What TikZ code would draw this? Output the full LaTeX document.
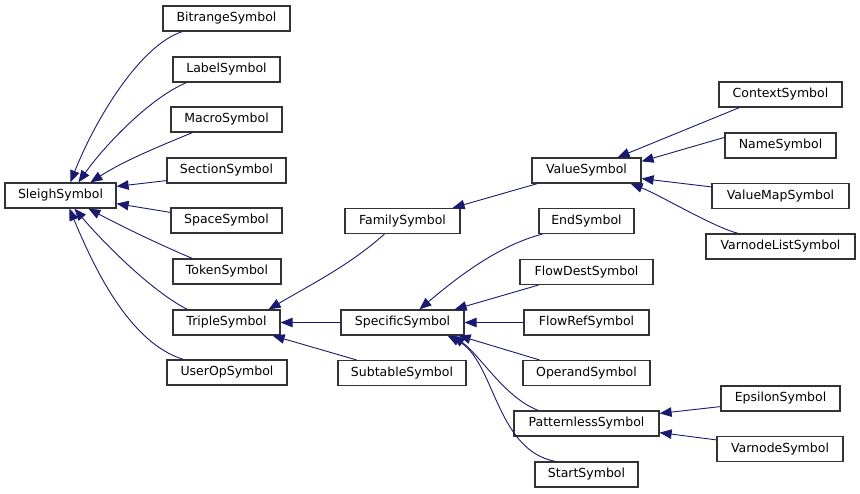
\documentclass[tikz,border=0pt]{standalone}
\usepackage{fontspec}
\setmainfont{DejaVu Sans}
\usetikzlibrary{arrows.meta,calc}
\definecolor{edgeblue}{HTML}{191970}
\begin{document}
\begin{tikzpicture}[x=1pt,y=-1pt,
  box/.style={draw=black!80, line width=1.2pt, minimum height=25pt, inner sep=0pt, fill=white,
    font=\fontsize{12.5}{14}\selectfont},
  edge/.style={draw=edgeblue, line width=0.9pt, -{Triangle[length=12pt,width=9.5pt]}}]
\useasboundingbox (0,0) rectangle (860,493);
% nodes
\node[box, minimum width=111pt] (sleigh) at (60.5,195.5) {SleighSymbol};
\node[box, minimum width=127pt] (bit) at (226.5,18.5) {BitrangeSymbol};
\node[box, minimum width=107pt] (label) at (226.5,69.5) {LabelSymbol};
\node[box, minimum width=111pt] (macro) at (226.5,119.5) {MacroSymbol};
\node[box, minimum width=119pt] (section) at (226.5,170.5) {SectionSymbol};
\node[box, minimum width=111pt] (space) at (226.5,220.5) {SpaceSymbol};
\node[box, minimum width=108pt] (token) at (227,271.5) {TokenSymbol};
\node[box, minimum width=107pt] (triple) at (226.5,322.5) {TripleSymbol};
\node[box, minimum width=120pt] (userop) at (227,372.5) {UserOpSymbol};
\node[box, minimum width=115pt] (family) at (402.5,221) {FamilySymbol};
\node[box, minimum width=123pt] (specific) at (402.5,322.5) {SpecificSymbol};
\node[box, minimum width=128pt] (subtable) at (402,373) {SubtableSymbol};
\node[box, minimum width=109pt] (value) at (586.5,170.5) {ValueSymbol};
\node[box, minimum width=95pt] (end) at (586.5,221) {EndSymbol};
\node[box, minimum width=133pt] (flowdest) at (586.5,272) {FlowDestSymbol};
\node[box, minimum width=125pt] (flowref) at (586.5,322.5) {FlowRefSymbol};
\node[box, minimum width=127pt] (operand) at (586.5,373) {OperandSymbol};
\node[box, minimum width=145pt] (patternless) at (586.5,423.5) {PatternlessSymbol};
\node[box, minimum width=103pt] (start) at (586.5,474.5) {StartSymbol};
\node[box, minimum width=123pt] (context) at (780.5,94.5) {ContextSymbol};
\node[box, minimum width=111pt] (name) at (780.5,145.5) {NameSymbol};
\node[box, minimum width=137pt] (valuemap) at (780.5,196) {ValueMapSymbol};
\node[box, minimum width=149pt] (varnodelist) at (780.5,246.5) {VarnodeListSymbol};
\node[box, minimum width=119pt] (epsilon) at (780.5,398.5) {EpsilonSymbol};
\node[box, minimum width=126pt] (varnode) at (780,449) {VarnodeSymbol};
% edges to SleighSymbol
\draw[edge] ([xshift=20pt]bit.south west) .. controls (140,45) and (95,120) .. ([xshift=66pt]sleigh.north west);
\draw[edge] ([xshift=14pt]label.south west) .. controls (150,98) and (105,145) .. ([xshift=74pt]sleigh.north west);
\draw[edge] ([xshift=22pt]macro.south west) .. controls (165,144) and (125,160) .. ([xshift=86pt]sleigh.north west);
\draw[edge] ([yshift=3pt]section.south west) -- ([yshift=-4pt]sleigh.north east);
\draw[edge] ([yshift=-5pt]space.north west) -- ([yshift=5pt]sleigh.south east);
\draw[edge] ([xshift=20pt]token.north west) .. controls (165,247) and (125,228) .. ([xshift=84pt]sleigh.south west);
\draw[edge] ([xshift=15pt]triple.north west) .. controls (155,293) and (110,250) .. ([xshift=70pt]sleigh.south west);
\draw[edge] ([xshift=17pt]userop.north west) .. controls (130,343) and (95,270) .. ([xshift=65pt]sleigh.south west);
% edges to TripleSymbol
\draw[edge] ([xshift=40pt]family.south west) .. controls (350,265) and (310,285) .. ([xshift=-12pt]triple.north east);
\draw[edge] (specific.west) -- (triple.east);
\draw[edge] ([xshift=19pt]subtable.north west) -- ([xshift=-8pt]triple.south east);
% edge to FamilySymbol
\draw[edge] ([xshift=6pt]value.south west) -- ([xshift=-8pt]family.north east);
% edges to ValueSymbol
\draw[edge] ([xshift=21pt]context.south west) -- ([xshift=-24pt]value.north east);
\draw[edge] ([yshift=-5pt]name.north west) -- ([yshift=-4pt]value.north east);
\draw[edge] ([yshift=-4pt]valuemap.north west) -- ([yshift=5pt]value.south east);
\draw[edge] ([xshift=33pt]varnodelist.north west) .. controls (715,228) and (660,195) .. ([xshift=-11pt]value.south east);
% edges to SpecificSymbol
\draw[edge] ([xshift=4pt]end.south west) .. controls (500,245) and (460,275) .. ([xshift=79pt]specific.north west);
\draw[edge] ([xshift=19pt]flowdest.south west) -- ([xshift=-10pt]specific.north east);
\draw[edge] (flowref.west) -- (specific.east);
\draw[edge] ([xshift=17pt]operand.north west) -- ([xshift=-6pt]specific.south east);
\draw[edge] ([xshift=25pt]patternless.north west) .. controls (505,398) and (480,355) .. ([xshift=-12pt]specific.south east);
\draw[edge] ([xshift=21pt]start.north west) .. controls (495,450) and (495,360) .. ([xshift=-17pt]specific.south east);
% edges to PatternlessSymbol
\draw[edge] ([yshift=5pt]epsilon.south west) -- ([yshift=-3pt]patternless.north east);
\draw[edge] ([yshift=-4pt]varnode.north west) -- ([yshift=4pt]patternless.south east);
\end{tikzpicture}
\end{document}
